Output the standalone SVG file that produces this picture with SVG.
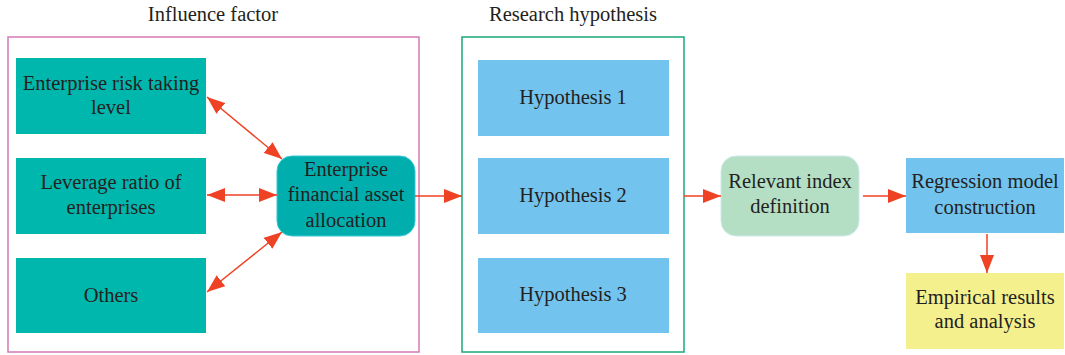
<svg xmlns="http://www.w3.org/2000/svg" width="1065" height="355" viewBox="0 0 1065 355">
<style>
text{font-family:"Liberation Serif","DejaVu Serif",serif;font-size:20.5px;fill:#231f20;text-anchor:middle}
.title{font-size:20.5px}
.teal{fill:#00b7ae}
.hyp{fill:#72c3ee}
.con{stroke:#ef4123;stroke-width:1.5;fill:none}
</style>
<defs>
<marker id="ahb" viewBox="0 0 10 10" refX="10" refY="5" markerWidth="18" markerHeight="14" markerUnits="userSpaceOnUse" orient="auto-start-reverse" preserveAspectRatio="none">
<path d="M0,0 L10,5 L0,10 z" fill="#ef4123"/>
</marker>
</defs>
<g id="frame-influence">
<rect x="8" y="37" width="411" height="315" fill="none" stroke="#d57ab8" stroke-width="1.5"/>
<text class="title" x="213" y="21">Influence factor</text>
</g>
<g id="frame-hypothesis">
<rect x="462" y="37" width="222" height="315" fill="none" stroke="#1aa876" stroke-width="1.5"/>
<text class="title" x="573" y="21">Research hypothesis</text>
</g>
<g id="n-risk"><rect class="teal" x="16" y="58" width="190" height="76"/><text x="111" y="90">Enterprise risk taking</text><text x="111" y="114">level</text></g>
<g id="n-leverage"><rect class="teal" x="16" y="158" width="190" height="76"/><text x="111" y="189">Leverage ratio of</text><text x="111" y="214">enterprises</text></g>
<g id="n-others"><rect class="teal" x="16" y="258" width="190" height="75"/><text x="111" y="302">Others</text></g>
<g id="n-alloc"><rect x="277" y="156" width="138" height="80" rx="15" fill="#00aeae" stroke="#38c6d6" stroke-width="1"/><text x="346" y="176">Enterprise</text><text x="346" y="201">financial asset</text><text x="346" y="227">allocation</text></g>
<g id="n-h1"><rect class="hyp" x="478" y="60" width="191" height="76"/><text x="573" y="104">Hypothesis 1</text></g>
<g id="n-h2"><rect class="hyp" x="478" y="158" width="191" height="76"/><text x="573" y="202">Hypothesis 2</text></g>
<g id="n-h3"><rect class="hyp" x="478" y="258" width="191" height="75"/><text x="573" y="301">Hypothesis 3</text></g>
<g id="n-index"><rect x="721" y="156" width="138" height="80" rx="15" fill="#b5dfc4" stroke="#cde9e9" stroke-width="1"/><text x="790" y="188">Relevant index</text><text x="790" y="213">definition</text></g>
<g id="n-regression"><rect class="hyp" x="906" y="158" width="158" height="75"/><text x="985" y="188">Regression model</text><text x="985" y="214">construction</text></g>
<g id="n-empirical"><rect x="906" y="273" width="158" height="76" fill="#f5f08e"/><text x="985" y="304">Empirical results</text><text x="985" y="328">and analysis</text></g>
<g id="connectors">
<line class="con" x1="207" y1="97" x2="282" y2="159" marker-start="url(#ahb)" marker-end="url(#ahb)"/>
<line class="con" x1="207" y1="195" x2="277" y2="195" marker-start="url(#ahb)" marker-end="url(#ahb)"/>
<line class="con" x1="207" y1="292" x2="282" y2="232" marker-start="url(#ahb)" marker-end="url(#ahb)"/>
<line class="con" x1="415" y1="196" x2="462" y2="196" marker-end="url(#ahb)"/>
<line class="con" x1="684" y1="196" x2="721" y2="196" marker-end="url(#ahb)"/>
<line class="con" x1="863" y1="196" x2="906" y2="196" marker-end="url(#ahb)"/>
<line class="con" x1="987" y1="234" x2="987" y2="273" marker-end="url(#ahb)"/>
</g>
</svg>
